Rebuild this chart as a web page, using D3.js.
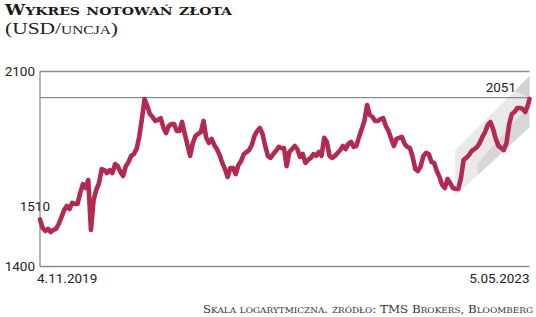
<!DOCTYPE html>
<html>
<head>
<meta charset="utf-8">
<script src="https://cdn.jsdelivr.net/npm/d3@7"></script>
<style>
  body { margin: 0; background: #fff; }
  svg { display: block; }
</style>
</head>
<body>
<div id="chart-area"></div>
<script>
// weekly (Monday) gold closes in USD/oz, plus the last day
var weeklyValues = [
  1512, 1480, 1469, 1477, 1465, 1473, 1477, 1495, 1521, 1548,
  1564, 1552, 1576, 1572, 1572, 1616, 1652, 1636, 1669, 1473,
  1588, 1628, 1656, 1715, 1711, 1698, 1711, 1698, 1737, 1728,
  1703, 1686, 1728, 1746, 1773, 1781, 1803, 1859, 1944, 2044,
  2009, 1969, 1954, 1935, 1940, 1949, 1905, 1877, 1910, 1920,
  1920, 1887, 1887, 1930, 1873, 1822, 1773, 1831, 1864, 1873,
  1882, 1935, 1855, 1831, 1850, 1822, 1803, 1777, 1742, 1715,
  1682, 1720, 1720, 1694, 1733, 1750, 1781, 1790, 1799, 1822,
  1864, 1887, 1901, 1873, 1818, 1773, 1764, 1781, 1795, 1813,
  1808, 1808, 1728, 1790, 1803, 1818, 1803, 1768, 1781, 1742,
  1755, 1764, 1781, 1773, 1790, 1773, 1855, 1836, 1773, 1764,
  1773, 1786, 1799, 1818, 1803, 1827, 1836, 1813, 1818, 1859,
  1896, 1935, 2014, 1964, 1954, 1935, 1935, 1944, 1949, 1910,
  1887, 1850, 1818, 1850, 1855, 1859, 1827, 1813, 1808, 1768,
  1715, 1707, 1728, 1773, 1786, 1781, 1746, 1742, 1707, 1682,
  1648, 1636, 1673, 1656, 1636, 1632, 1632, 1677, 1755, 1764,
  1777, 1795, 1803, 1813, 1831, 1859, 1882, 1915, 1930, 1896,
  1850, 1818, 1808, 1799, 1831, 1920, 1969, 1979, 1999, 1999,
  1994, 1979, 2014
];
var lastDate = new Date(2023, 4, 5);
var lastValue = 2045;

var startDate = new Date(2019, 10, 4);
var dateLabels = ['4.11.2019', '5.05.2023'];
var yTickLabels = ['1400', '2100'];
var startLabel = '1510';
var refValue = 2051;

// trend channel drawn over the last months: [date, upper, lower]
var channelDates = [new Date(2022, 9, 23), new Date(2023, 4, 5)];
var channelUpper = [1799, 2165];
var channelLower = [1604, 1905];

var title = 'Wykres notowań złota';
var subtitle = '(USD/uncja)';
var source = 'Skala logarytmiczna. źródło: TMS Brokers, Bloomberg';

(function() {
  var dates = d3.timeMonday.range(startDate, new Date(2023, 4, 2)).concat([lastDate]);
  var values = weeklyValues.concat([lastValue]);
  var data = dates.map(function(d, i) {
    return { date: d, value: values[i] };
  });

  var width = 536, height = 317;
  var pLeft = 40, pRight = 529.5, pTop = 71.5, pBottom = 266.5;

  var svg = d3.select('#chart-area').append('svg')
    .attr('width', width)
    .attr('height', height);

  var x = d3.scaleTime()
    .domain([startDate, lastDate])
    .range([pLeft, pRight]);

  var y = d3.scaleLog()
    .domain([1344, 2190])
    .range([pBottom, pTop]);

  // channel
  var band = [
    [x(channelDates[0]), y(channelUpper[0])],
    [x(channelDates[1]), y(channelUpper[1])],
    [x(channelDates[1]), y(channelLower[1])],
    [x(channelDates[0]), y(channelLower[0])]
  ];
  function pts(arr) { return arr.map(function(p) { return p.join(','); }).join(' '); }
  svg.append('polygon')
    .attr('points', pts(band))
    .attr('fill', '#e9e9e9');

  // darker inner stripe of the channel
  function lerp(a, b, t) { return [a[0] + (b[0] - a[0]) * t, a[1] + (b[1] - a[1]) * t]; }
  var ub = band[0], ue = band[1], le = band[2], lb = band[3];
  var stripe = [lerp(lerp(lb, le, 0.3), lerp(ub, ue, 0.3), 0.25),
    lerp(le, ue, 0.45), le, lerp(lb, le, 0.3)];
  svg.append('polygon')
    .attr('points', pts(stripe))
    .attr('fill', '#d7d7d7');
  var corner = [lerp(ub, ue, 0.8), ue, [ue[0], y(refValue)]];
  svg.append('polygon')
    .attr('points', pts(corner))
    .attr('fill', '#d2d2d2');

  // frame
  var frameColor = '#8c8c8c';
  function hline(yy) {
    svg.append('line')
      .attr('x1', pLeft).attr('x2', pRight)
      .attr('y1', yy).attr('y2', yy)
      .attr('stroke', frameColor).attr('stroke-width', 1.3);
  }
  hline(pTop);
  hline(pBottom);
  hline(y(refValue));
  svg.append('line')
    .attr('x1', pLeft).attr('x2', pLeft)
    .attr('y1', pTop).attr('y2', pBottom)
    .attr('stroke', frameColor).attr('stroke-width', 1.3);

  // price line
  var line = d3.line()
    .x(function(d) { return x(d.date); })
    .y(function(d) { return y(d.value); });

  svg.append('path')
    .datum(data)
    .attr('d', line)
    .attr('fill', 'none')
    .attr('stroke', '#b32a50')
    .attr('stroke-width', 4.6)
    .attr('stroke-linejoin', 'round')
    .attr('stroke-linecap', 'round');

  // labels
  var numFont = 'Roboto, sans-serif';
  function label(tx, ty, anchor, str) {
    svg.append('text')
      .attr('x', tx)
      .attr('y', ty)
      .attr('text-anchor', anchor)
      .attr('font-family', numFont)
      .attr('font-size', 13.5)
      .attr('fill', '#222')
      .text(str);
  }
  label(pLeft - 5, pBottom + 4.5, 'end', yTickLabels[0]);
  label(pLeft - 5, pTop + 4.5, 'end', yTickLabels[1]);
  label(x(dates[0]) + 10, y(values[0]) - 8, 'end', startLabel);
  label(pRight - 13.5, y(refValue) - 6, 'end', String(refValue));
  label(pLeft - 3, 283, 'start', dateLabels[0]);
  label(pRight, 283, 'end', dateLabels[1]);

  // small caps by hand: lowercase letters become smaller capitals
  function smallCaps(sel, str, size, ratio) {
    var runs = [];
    str.split('').forEach(function(ch) {
      var low = ch !== ch.toUpperCase();
      if (runs.length && runs[runs.length - 1].low === low) runs[runs.length - 1].t += ch;
      else runs.push({ low: low, t: ch });
    });
    runs.forEach(function(r) {
      sel.append('tspan')
        .attr('font-size', r.low ? size * ratio : size)
        .text(r.low ? r.t.toUpperCase() : r.t);
    });
  }

  var t = svg.append('text')
    .attr('x', 5)
    .attr('y', 15)
    .attr('font-family', '"DejaVu Serif", serif')
    .attr('font-weight', 'bold')
    .attr('fill', '#1a1a1a')
    .attr('textLength', 227)
    .attr('lengthAdjust', 'spacingAndGlyphs');
  smallCaps(t, title, 14, 0.78);

  var sub = svg.append('text')
    .attr('x', 5)
    .attr('y', 33.5)
    .attr('font-family', '"Liberation Serif", serif')
    .attr('fill', '#222')
    .attr('textLength', 113)
    .attr('lengthAdjust', 'spacingAndGlyphs');
  smallCaps(sub, subtitle, 16, 0.72);

  var src = svg.append('text')
    .attr('x', 533)
    .attr('y', 313)
    .attr('text-anchor', 'end')
    .attr('font-family', '"DejaVu Serif", serif')
    .attr('fill', '#333')
    .attr('textLength', 330)
    .attr('lengthAdjust', 'spacingAndGlyphs');
  smallCaps(src, source, 10.5, 0.75);
})();
</script>
</body>
</html>
